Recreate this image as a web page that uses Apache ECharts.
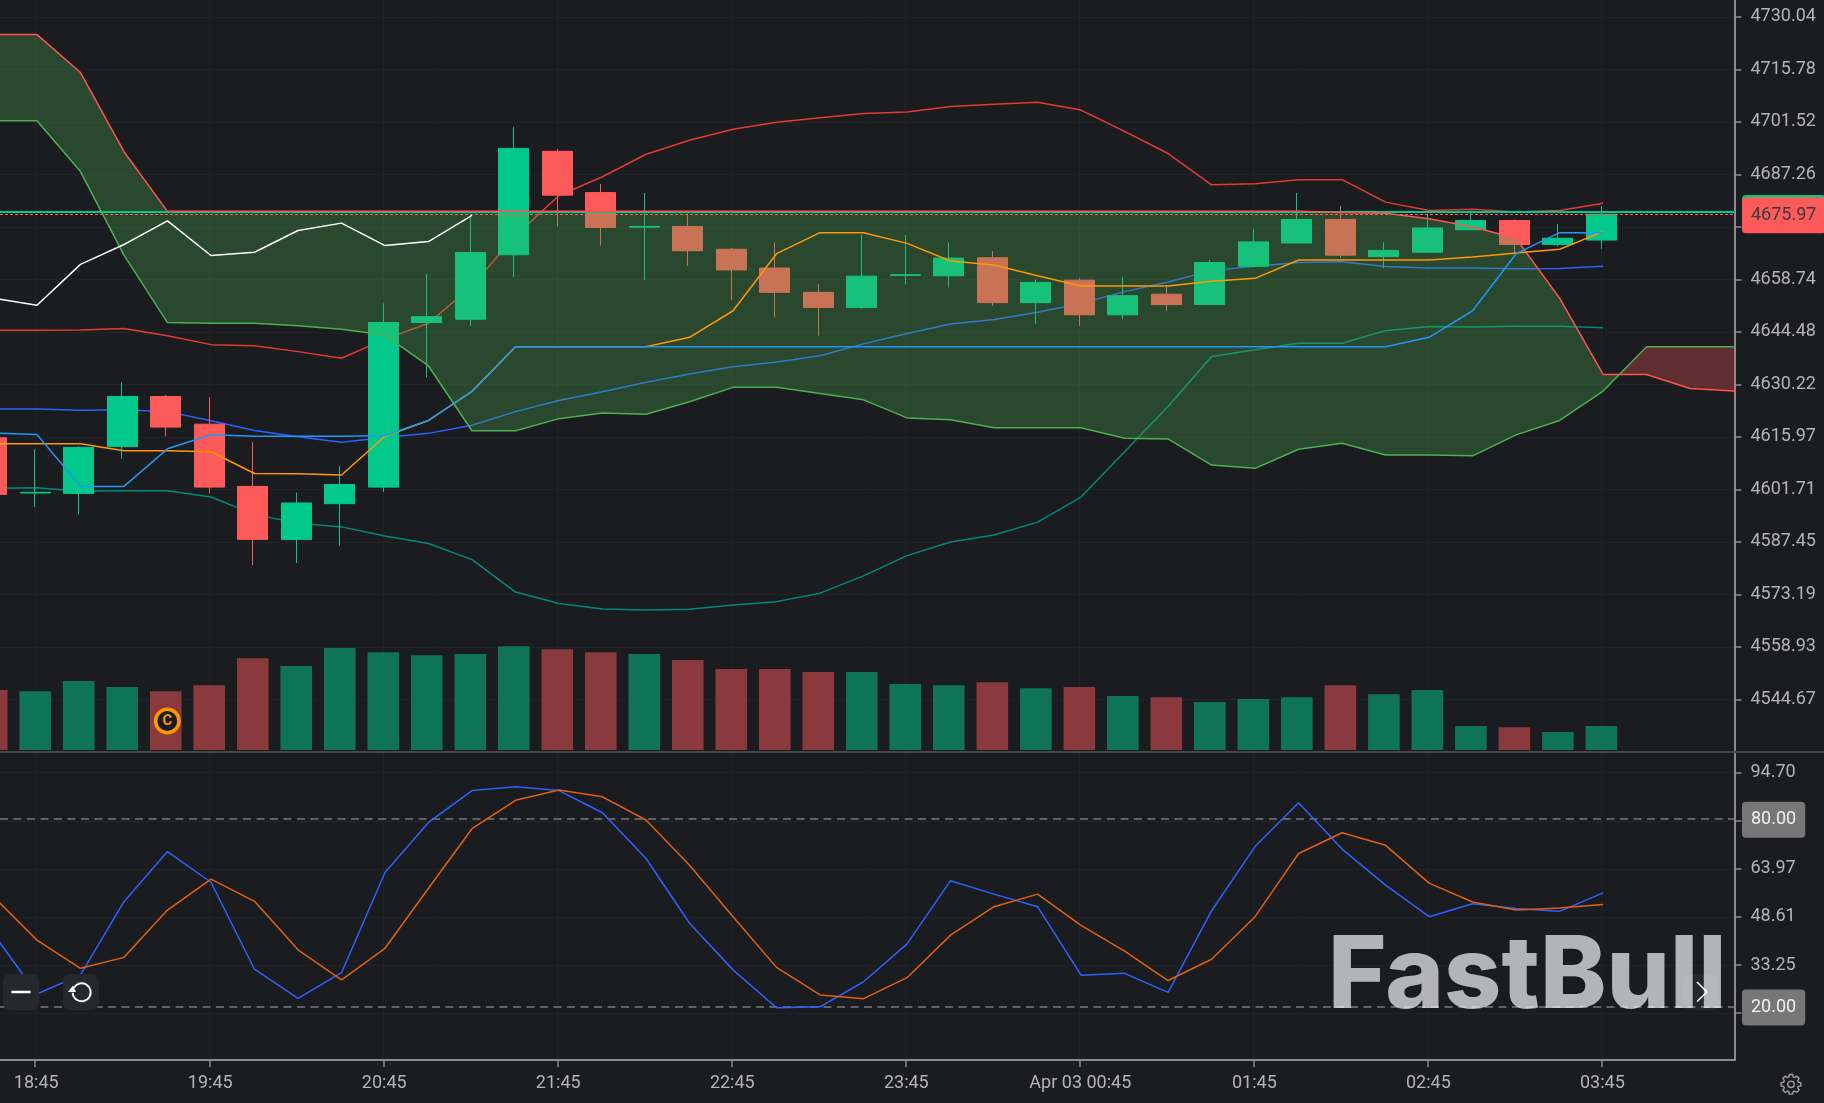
<!DOCTYPE html>
<html>
<head>
<meta charset="utf-8">
<title>FastBull 15m chart</title>
<script src="https://cdn.jsdelivr.net/npm/echarts@6/dist/echarts.min.js"></script>
<style>
  html, body { margin: 0; padding: 0; background: #1b1c20; }
  #chart { width: 1824px; height: 1103px; }
</style>
</head>
<body>
<div id="chart"></div>
<script>
'use strict';

//x axis: one bar every 15 minutes, bar number -> label
var timeTickBars = [1, 5, 9, 13, 17, 21, 25, 29, 33, 37];
var timeTickLabels = ['18:45', '19:45', '20:45', '21:45', '22:45', '23:45', 'Apr 03 00:45', '01:45', '02:45', '03:45'];

//y axis ticks (4673.00, 79.33 and 17.88 sit under the badges)
var priceTicks = [4730.04, 4715.78, 4701.52, 4687.26, 4673.00, 4658.74, 4644.48, 4630.22, 4615.97, 4601.71, 4587.45, 4573.19, 4558.93, 4544.67];
var priceLabelTicks = [4730.04, 4715.78, 4701.52, 4687.26, 4658.74, 4644.48, 4630.22, 4615.97, 4601.71, 4587.45, 4573.19, 4558.93, 4544.67];
var stochTicks = [94.70, 79.33, 63.97, 48.61, 33.25, 17.88];
var stochLabelTicks = [94.70, 63.97, 48.61, 33.25];

//[open, close, low, high] from bar 0
var candles = [
  [4615.7, 4600.3, 4600.3, 4615.7], [4600.7, 4600.9, 4596.9, 4612.6], [4600.6, 4613.1, 4594.9, 4613.4], [4613.3, 4626.9, 4610.0, 4630.8],
  [4626.9, 4618.6, 4616.1, 4627.3], [4619.4, 4602.3, 4600.6, 4626.7], [4602.5, 4588.1, 4581.1, 4614.5], [4588.1, 4598.0, 4581.7, 4600.8],
  [4597.8, 4603.0, 4586.4, 4608.0], [4602.3, 4647.0, 4601.0, 4652.2], [4647.0, 4648.6, 4632.1, 4660.2], [4647.9, 4666.0, 4646.1, 4676.1],
  [4665.4, 4694.3, 4659.3, 4700.1], [4693.5, 4681.6, 4673.1, 4694.1], [4682.3, 4672.8, 4667.9, 4684.6], [4672.9, 4673.1, 4658.5, 4682.2],
  [4673.1, 4666.5, 4662.4, 4676.6], [4666.9, 4661.3, 4653.1, 4667.3], [4661.8, 4655.2, 4648.4, 4668.8], [4655.2, 4651.1, 4643.4, 4657.4],
  [4651.1, 4659.6, 4650.7, 4670.9], [4659.8, 4660.0, 4657.3, 4670.8], [4659.7, 4664.5, 4656.5, 4668.8], [4664.6, 4652.4, 4651.5, 4666.4],
  [4652.4, 4657.9, 4646.6, 4658.7], [4658.5, 4649.1, 4646.1, 4659.1], [4649.1, 4654.3, 4647.9, 4659.4], [4654.7, 4651.9, 4650.2, 4657.0],
  [4651.9, 4663.3, 4651.9, 4664.0], [4662.3, 4668.9, 4662.0, 4672.5], [4668.6, 4675.0, 4668.6, 4682.2], [4675.0, 4665.3, 4664.6, 4678.6],
  [4664.9, 4666.6, 4661.7, 4668.8], [4666.1, 4672.7, 4666.1, 4676.4], [4672.2, 4674.7, 4672.2, 4677.4], [4674.7, 4668.2, 4665.7, 4675.0],
  [4668.2, 4669.9, 4667.7, 4673.8], [4669.4, 4676.4, 4667.0, 4678.6]
];

var volumes = [60, 58.7, 69, 63, 58.7, 64.7, 91.7, 84, 102, 97.7, 94.7, 96, 103.7, 100.7, 97.7, 96, 90, 81, 81, 78, 78, 66, 64.7, 67.7, 61.7, 63, 54, 52.7, 48, 51, 52.7, 64.7, 55.7, 60, 24, 22.7, 18, 24];

//ichimoku, the spans run 3 bars past the last candle and a bit more
var senkouB = [4725.2, 4725.2, 4714.9, 4693.4, 4677.2, 4677.2, 4677.2, 4677.2, 4677.2, 4677.2, 4677.2, 4677.2, 4677.2, 4677.2, 4677.2, 4677.2, 4677.2, 4677.2, 4677.2, 4677.2, 4677.2, 4677.2, 4677.2, 4677.2, 4677.2, 4677.2, 4677.2, 4677.2, 4677.2, 4677.2, 4677.2, 4676.9, 4676.7, 4675.2, 4673.0, 4669.8, 4653.6, 4632.9, 4632.9, 4629.1, 4628.4, 4628.3];
var senkouA = [4701.8, 4701.8, 4688.0, 4665.3, 4647.0, 4646.8, 4646.8, 4646.1, 4645.2, 4643.6, 4635.2, 4617.6, 4617.6, 4620.9, 4622.4, 4622.1, 4625.5, 4629.4, 4629.4, 4627.7, 4626.0, 4621.1, 4620.6, 4618.4, 4618.4, 4618.4, 4615.6, 4615.4, 4608.3, 4607.4, 4612.6, 4614.2, 4611.0, 4611.0, 4610.8, 4616.5, 4620.4, 4628.4, 4640.4, 4640.4, 4640.4, 4640.4];
var chikou = [4653.6, 4651.7, 4662.8, 4668.2, 4674.6, 4665.2, 4666.1, 4672.0, 4674.0, 4667.9, 4669.0, 4676.1];
var tenkan = [4614.1, 4614.1, 4614.1, 4612.2, 4612.2, 4611.9, 4606.0, 4605.9, 4605.6, 4616.1, 4620.4, 4628.3, 4640.4, 4640.4, 4640.4, 4640.4, 4643.0, 4650.2, 4665.7, 4671.4, 4671.4, 4668.5, 4663.7, 4662.6, 4659.7, 4656.9, 4656.9, 4656.9, 4658.2, 4659.0, 4664.0, 4664.0, 4664.0, 4664.0, 4664.8, 4665.9, 4666.9, 4671.7];
var kijun = [4617.0, 4616.6, 4602.5, 4602.5, 4612.7, 4616.5, 4616.1, 4616.1, 4616.1, 4616.3, 4620.4, 4628.3, 4640.4, 4640.4, 4640.4, 4640.4, 4640.4, 4640.4, 4640.4, 4640.4, 4640.4, 4640.4, 4640.4, 4640.4, 4640.4, 4640.4, 4640.4, 4640.4, 4640.4, 4640.4, 4640.4, 4640.4, 4640.4, 4643.0, 4650.2, 4665.7, 4671.4, 4671.4];

//bollinger bands
var bbUpper = [4644.9, 4644.9, 4645.0, 4645.4, 4643.4, 4641.0, 4640.7, 4639.1, 4637.3, 4642.5, 4646.8, 4657.0, 4670.6, 4681.5, 4686.6, 4692.7, 4696.5, 4699.5, 4701.4, 4702.6, 4703.8, 4704.2, 4705.7, 4706.3, 4706.8, 4704.7, 4698.9, 4692.9, 4684.4, 4684.7, 4685.8, 4685.8, 4679.7, 4677.4, 4677.8, 4677.0, 4677.4, 4679.4];
var bbMiddle = [4623.5, 4623.5, 4623.2, 4623.3, 4622.8, 4620.3, 4617.7, 4616.0, 4614.5, 4615.8, 4616.9, 4619.1, 4622.8, 4625.8, 4628.2, 4630.8, 4633.0, 4635.0, 4636.3, 4638.0, 4641.2, 4644.0, 4646.6, 4647.8, 4649.8, 4652.2, 4655.4, 4658.0, 4661.1, 4662.3, 4663.3, 4663.5, 4662.2, 4661.8, 4661.8, 4661.6, 4661.7, 4662.3];
var bbLower = [4602.0, 4602.1, 4601.2, 4601.3, 4601.3, 4599.6, 4594.9, 4592.5, 4591.5, 4589.0, 4587.0, 4582.6, 4573.8, 4570.7, 4569.2, 4568.9, 4569.1, 4570.3, 4571.2, 4573.5, 4578.2, 4583.7, 4587.4, 4589.3, 4592.8, 4599.6, 4611.9, 4624.2, 4637.8, 4639.6, 4641.4, 4641.4, 4644.8, 4645.9, 4645.8, 4646.0, 4646.0, 4645.6];

//stochastic
var stochK = [43.2, 24.0, 30.1, 53.5, 69.5, 59.7, 31.9, 22.6, 30.8, 62.8, 78.8, 89.0, 90.2, 89.0, 81.9, 67.3, 46.6, 31.7, 19.6, 19.9, 27.9, 40.0, 60.2, 55.9, 51.9, 30.0, 30.6, 24.5, 50.6, 71.1, 85.1, 70.3, 58.8, 48.7, 52.8, 51.3, 50.4, 56.3];
var stochD = [55.1, 41.2, 32.2, 35.7, 50.8, 60.7, 53.6, 38.1, 28.5, 38.6, 57.8, 76.8, 85.9, 89.2, 87.0, 79.6, 65.1, 48.7, 32.5, 23.7, 22.5, 29.2, 42.8, 51.9, 55.9, 45.9, 37.7, 28.3, 35.1, 48.7, 68.9, 75.5, 71.5, 59.4, 53.4, 50.8, 51.5, 52.6];

var lastPriceLabel = '4675.97';
var lastPriceLevel = 4676.4; //where the dashed line is drawn on the axis
var lastCloseLevel = 4677.05;
var stochLevels = [80, 20];

var upColor = '#00c98b';
var downColor = '#ff5a5a';
var volUpColor = '#0f7454';
var volDownColor = '#8a3a3d';
var textColor = '#b4b4b4';
var gridColor = '#222328';
var axisColor = '#8c8c8c';

var chart = echarts.init(document.getElementById('chart'), null, { renderer: 'canvas' });

//lines sit a hair to the right of the candle centres
function linePoints(values) {
  return values.map(function(v, i) {
    return [i + 0.04, v];
  });
}

function lineSeries(name, values, color, z, extra) {
  return Object.assign({
    name: name,
    type: 'line',
    data: linePoints(values),
    showSymbol: false,
    silent: true,
    z: z,
    lineStyle: { color: color, width: 1.5 }
  }, extra || {});
}

//split the cloud where the two spans cross
function cloudBands() {
  var crossAt = senkouA.length - 1;
  var crossPoint = null;
  for (var i = 1; i < senkouA.length; i++) {
    var d0 = senkouB[i - 1] - senkouA[i - 1];
    var d1 = senkouB[i] - senkouA[i];
    if (d0 > 0 && d1 <= 0) {
      var t = d0 / (d0 - d1);
      crossAt = i;
      crossPoint = [i - 1 + t + 0.04, senkouA[i - 1] + (senkouA[i] - senkouA[i - 1]) * t];
      break;
    }
  }
  var a = linePoints(senkouA);
  var b = linePoints(senkouB);
  return [
    { color: 'rgba(76,175,80,0.3)', top: b.slice(0, crossAt).concat([crossPoint]), bottom: a.slice(0, crossAt) },
    { color: 'rgba(255,82,82,0.3)', top: [crossPoint].concat(a.slice(crossAt)), bottom: b.slice(crossAt) }
  ];
}
var bands = cloudBands();

function renderCloud(params, api) {
  var band = bands[params.dataIndex];
  var pts = band.top.concat(band.bottom.slice().reverse()).map(function(p) {
    return api.coord(p);
  });
  return {
    type: 'polygon',
    shape: { points: pts },
    style: { fill: band.color, stroke: null }
  };
}

var barsToX = { min: 0.19, max: 40.06 };

function timeAxis(gridIndex, showLabels) {
  return {
    type: 'value',
    gridIndex: gridIndex,
    min: barsToX.min,
    max: barsToX.max,
    axisLine: { show: showLabels, onZero: false, lineStyle: { color: axisColor, width: 2 } },
    axisTick: { show: showLabels, customValues: timeTickBars, length: 7, lineStyle: { color: axisColor, width: 1.5 } },
    axisLabel: {
      show: showLabels,
      customValues: timeTickBars,
      color: textColor,
      fontFamily: 'Roboto',
      fontSize: 18,
      margin: 14,
      padding: [0, 0, 0, 2],
      formatter: function(v) {
        return timeTickLabels[timeTickBars.indexOf(v)];
      }
    },
    splitLine: { show: gridIndex !== 1, lineStyle: { color: gridColor, width: 1 } }
  };
}

function valueAxis(gridIndex, min, max, ticks, labelTicks) {
  return {
    type: 'value',
    gridIndex: gridIndex,
    position: 'right',
    min: min,
    max: max,
    axisLine: { show: true, onZero: false, lineStyle: { color: axisColor, width: 2 } },
    axisTick: { show: true, customValues: ticks, length: 7, lineStyle: { color: axisColor, width: 1.5 } },
    axisLabel: {
      customValues: labelTicks,
      color: textColor,
      fontFamily: 'Roboto',
      fontSize: 18,
      margin: 16,
      padding: [5, 0, 0, 0],
      formatter: function(v) {
        return v.toFixed(2);
      }
    },
    splitLine: { show: true, lineStyle: { color: gridColor, width: 1 } }
  };
}

function levelLabel(text, bg, color) {
  return {
    show: true,
    position: 'end',
    distance: 7.5,
    offset: [0, 1],
    formatter: text,
    backgroundColor: bg,
    color: color,
    fontFamily: 'Roboto',
    fontSize: 18,
    lineHeight: 18,
    padding: [9, 9, 9, 9],
    borderRadius: 4
  };
}

//gear outline for the settings button
function gearPoints(cx, cy) {
  var pts = [];
  for (var i = 0; i < 8; i++) {
    var a = (i / 8) * Math.PI * 2 - Math.PI / 2;
    [[-0.3, 7.6], [-0.16, 10], [0.16, 10], [0.3, 7.6]].forEach(function(s) {
      pts.push([cx + Math.cos(a + s[0]) * s[1], cy + Math.sin(a + s[0]) * s[1]]);
    });
  }
  return pts;
}

var option = {
  animation: false,
  backgroundColor: '#1b1c20',
  grid: [
    { left: 0, top: 0, width: 1734.5, height: 752 },
    { left: 0, top: 600, width: 1734.5, height: 150 },
    { left: 0, top: 753, width: 1734.5, height: 307 }
  ],
  xAxis: [timeAxis(0, false), timeAxis(1, false), timeAxis(2, true)],
  yAxis: [
    valueAxis(0, 4530.36, 4734.6, priceTicks, priceLabelTicks),
    { type: 'value', gridIndex: 1, min: 0, max: 150, show: false, splitLine: { show: false } },
    valueAxis(2, 2.9, 101.0, stochTicks, stochLabelTicks)
  ],
  series: [
    lineSeries('BB upper', bbUpper, '#e53935', 2),
    lineSeries('BB middle', bbMiddle, '#2962ff', 2),
    lineSeries('BB lower', bbLower, '#00897b', 2),
    {
      name: 'Candles',
      type: 'candlestick',
      barWidth: 30.6,
      silent: true,
      z: 3,
      data: candles.map(function(c, i) {
        return [i, c[0], c[1], c[2], c[3]];
      }),
      itemStyle: {
        color: upColor,
        color0: downColor,
        borderColor: upColor,
        borderColor0: downColor,
        borderWidth: 1
      }
    },
    {
      name: 'Cloud',
      type: 'custom',
      coordinateSystem: 'cartesian2d',
      renderItem: renderCloud,
      clip: true,
      silent: true,
      z: 4,
      data: [[1, 4650], [39, 4635]]
    },
    lineSeries('Span B', senkouB, '#ff5252', 5),
    lineSeries('Span A', senkouA, '#4caf50', 5),
    lineSeries('Tenkan', tenkan, '#ff9800', 5),
    lineSeries('Kijun', kijun, '#2196f3', 5),
    lineSeries('Chikou', chikou, '#ffffff', 5, {
      markLine: {
        silent: true,
        symbol: 'none',
        animation: false,
        data: [
          {
            yAxis: lastCloseLevel,
            lineStyle: { color: upColor, width: 2, type: 'solid' },
            label: levelLabel(lastPriceLabel, upColor, upColor)
          },
          {
            yAxis: lastPriceLevel,
            lineStyle: { color: downColor, width: 1, type: [3, 2] },
            label: levelLabel(lastPriceLabel, downColor, '#3a3b45')
          }
        ]
      }
    }),
    {
      name: 'Volume',
      type: 'bar',
      xAxisIndex: 1,
      yAxisIndex: 1,
      barWidth: 31.6,
      silent: true,
      data: volumes.map(function(v, i) {
        return {
          value: [i, v],
          itemStyle: { color: candles[i][1] >= candles[i][0] ? volUpColor : volDownColor }
        };
      })
    },
    lineSeries('%K', stochK, '#2962ff', 5, {
      xAxisIndex: 2,
      yAxisIndex: 2,
      markLine: {
        silent: true,
        symbol: 'none',
        animation: false,
        lineStyle: { color: '#77787b', width: 1.5, type: [8, 5.5] },
        data: stochLevels.map(function(level) {
          return { yAxis: level, label: levelLabel(level.toFixed(2), '#777777', '#f0f0f0') };
        })
      }
    }),
    lineSeries('%D', stochD, '#e06010', 5, { xAxisIndex: 2, yAxisIndex: 2 })
  ],
  graphic: [
    //pane divider
    { type: 'line', silent: true, z: 20, shape: { x1: 0, y1: 752, x2: 1824, y2: 752 }, style: { stroke: '#47484c', lineWidth: 2 } },
    //copyright mark on the volume pane
    { type: 'circle', silent: true, z: 20, shape: { cx: 167.3, cy: 721, r: 11.7 }, style: { fill: '#1b1c20', stroke: '#ff9800', lineWidth: 3.5 } },
    { type: 'text', silent: true, z: 21, x: 167.3, y: 721, style: { text: 'C', fill: '#ff9800', font: 'bold 15px Roboto', textAlign: 'center', textVerticalAlign: 'middle' } },
    //zoom buttons
    { type: 'rect', silent: true, z: 20, shape: { x: 3, y: 974, width: 36, height: 36, r: 7 }, style: { fill: '#27282d' } },
    { type: 'line', silent: true, z: 21, shape: { x1: 11.5, y1: 992, x2: 30.5, y2: 992 }, style: { stroke: '#ffffff', lineWidth: 2.5 } },
    { type: 'rect', silent: true, z: 20, shape: { x: 63, y: 974, width: 36, height: 36, r: 7 }, style: { fill: '#27282d' } },
    { type: 'arc', silent: true, z: 21, shape: { cx: 81.7, cy: 992.3, r: 9, startAngle: -2.6, endAngle: 3.1, clockwise: true }, style: { stroke: '#ffffff', fill: null, lineWidth: 2 } },
    { type: 'polygon', silent: true, z: 21, shape: { points: [[68, 992], [76, 992], [73, 985.5]] }, style: { fill: '#ffffff' } },
    //watermark
    { type: 'text', silent: true, z: 22, x: 1328, y: 978, style: { text: 'FastBull', fill: 'rgba(255,255,255,0.67)', font: '800 100px Inter', textAlign: 'left', textVerticalAlign: 'middle' } },
    //scroll button
    { type: 'rect', silent: true, z: 23, shape: { x: 1683, y: 974, width: 36, height: 36, r: 7 }, style: { fill: 'rgba(255,255,255,0.05)' } },
    { type: 'polyline', silent: true, z: 24, shape: { points: [[1697, 982], [1707, 992], [1697, 1001.5]] }, style: { stroke: '#ffffff', fill: null, lineWidth: 1.5 } },
    //settings
    { type: 'polygon', silent: true, z: 20, shape: { points: gearPoints(1791, 1084.3) }, style: { fill: null, stroke: '#a0a0a0', lineWidth: 1.4 } },
    { type: 'circle', silent: true, z: 20, shape: { cx: 1791, cy: 1084.3, r: 3.2 }, style: { fill: null, stroke: '#a0a0a0', lineWidth: 1.4 } }
  ]
};

chart.setOption(option);
</script>
</body>
</html>
